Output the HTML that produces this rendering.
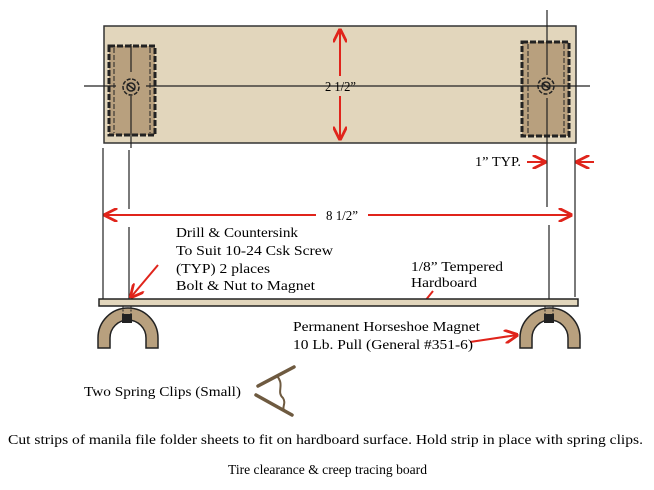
<!DOCTYPE html>
<html><head><meta charset="utf-8"><style>
html,body{margin:0;padding:0;background:#fff}
svg{display:block}
text{font-family:"Liberation Serif",serif;font-size:14px;fill:#000}
</style></head><body>
<svg width="654" height="490" viewBox="0 0 654 490">
<defs>
<marker id="a" viewBox="0 0 10 10" refX="9" refY="5" markerWidth="7" markerHeight="7" orient="auto-start-reverse"><path d="M0,0 L10,5 L0,10" fill="none" stroke="#e0241b" stroke-width="2"/></marker>
</defs>
<rect x="104" y="26" width="472" height="117" fill="#e2d6bc" stroke="#333" stroke-width="1.5"/>
<g stroke="#222" stroke-width="3" stroke-dasharray="6,2" fill="#b8a07e">
<rect x="109" y="46" width="46" height="89"/>
<rect x="522" y="42" width="47" height="94"/>
</g>
<g stroke="#222" stroke-width="1" stroke-dasharray="5,2" fill="none">
<line x1="114" y1="48" x2="114" y2="133"/><line x1="150" y1="48" x2="150" y2="133"/>
<line x1="528" y1="44" x2="528" y2="134"/><line x1="564" y1="44" x2="564" y2="134"/>
</g>
<g stroke="#222" stroke-width="1.2">
<line x1="84" y1="86" x2="116" y2="86"/><line x1="146" y1="86" x2="590" y2="86"/>
<line x1="131" y1="44" x2="131" y2="72"/><line x1="131" y1="96" x2="131" y2="148"/>
<line x1="547" y1="10" x2="547" y2="75"/><line x1="547" y1="98" x2="547" y2="207"/>
<line x1="103" y1="148" x2="103" y2="300"/>
<line x1="129" y1="150" x2="129" y2="209"/><line x1="129" y1="227" x2="129" y2="300"/>
<line x1="549" y1="225" x2="549" y2="300"/>
<line x1="575" y1="148" x2="575" y2="297"/>
</g>
<g fill="none" stroke="#222" stroke-width="1.5">
<circle cx="131" cy="87" r="8" stroke-dasharray="4,1.5"/><circle cx="131" cy="87" r="4"/><line x1="127" y1="84" x2="135" y2="90"/>
<circle cx="546" cy="86" r="8" stroke-dasharray="4,1.5"/><circle cx="546" cy="86" r="4"/><line x1="542" y1="83" x2="550" y2="89"/>
</g>
<g stroke="#e0241b" stroke-width="2" fill="none">
<line x1="340" y1="30" x2="340" y2="76" marker-start="url(#a)"/>
<line x1="340" y1="96" x2="340" y2="139" marker-end="url(#a)"/>
<line x1="105" y1="215" x2="316" y2="215" marker-start="url(#a)"/>
<line x1="368" y1="215" x2="571" y2="215" marker-end="url(#a)"/>
<line x1="527" y1="162" x2="545" y2="162" marker-end="url(#a)"/>
<line x1="594" y1="162" x2="577" y2="162" marker-end="url(#a)"/>
<line x1="158" y1="265" x2="131" y2="297" marker-end="url(#a)"/>
<line x1="470" y1="342" x2="517" y2="335" marker-end="url(#a)"/>
<line x1="433" y1="291" x2="425" y2="301"/>
</g>
<text x="325" y="91" textLength="31" lengthAdjust="spacingAndGlyphs">2 1/2”</text>
<text x="326" y="220" textLength="32" lengthAdjust="spacingAndGlyphs">8 1/2”</text>
<text x="475" y="166" textLength="46" lengthAdjust="spacingAndGlyphs">1” TYP.</text>
<rect x="99" y="299" width="479" height="7" fill="#e2d6bc" stroke="#222" stroke-width="1.5"/>
<g fill="#b8a07e" stroke="#222" stroke-width="1.5">
<path d="M98,348 L98,338 A30,30 0 0 1 158,338 L158,348 L146,348 L146,338 A18,18 0 0 0 110,338 L110,348 Z"/>
<path d="M520,348 L520,338 A30,30 0 0 1 580,338 L580,348 L568,348 L568,338 A18,18 0 0 0 532,338 L532,348 Z"/>
</g>
<g fill="#222"><rect x="122" y="314" width="10" height="9"/><rect x="544" y="314" width="10" height="9"/></g>
<g stroke="#222" stroke-width="1" stroke-dasharray="2,1.5">
<line x1="123" y1="306" x2="123" y2="320"/><line x1="131" y1="306" x2="131" y2="320"/>
<line x1="545" y1="306" x2="545" y2="320"/><line x1="553" y1="306" x2="553" y2="320"/>
</g>
<text x="176" y="237" textLength="122" lengthAdjust="spacingAndGlyphs">Drill &amp; Countersink</text>
<text x="176" y="255" textLength="157" lengthAdjust="spacingAndGlyphs">To Suit 10-24 Csk Screw</text>
<text x="176" y="273" textLength="94" lengthAdjust="spacingAndGlyphs">(TYP) 2 places</text>
<text x="176" y="290" textLength="139" lengthAdjust="spacingAndGlyphs">Bolt &amp; Nut to Magnet</text>
<text x="411" y="271" textLength="92" lengthAdjust="spacingAndGlyphs">1/8” Tempered</text>
<text x="411" y="287" textLength="66" lengthAdjust="spacingAndGlyphs">Hardboard</text>
<text x="293" y="331" textLength="187" lengthAdjust="spacingAndGlyphs">Permanent Horseshoe Magnet</text>
<text x="293" y="349" textLength="180" lengthAdjust="spacingAndGlyphs">10 Lb. Pull (General #351-6)</text>
<text x="84" y="396" textLength="157" lengthAdjust="spacingAndGlyphs">Two Spring Clips (Small)</text>
<g stroke="#6e5a40" stroke-width="3.5" fill="none" stroke-linecap="round">
<line x1="258" y1="386" x2="294" y2="367"/>
<line x1="256" y1="395" x2="292" y2="415"/>
<path d="M277,376 C285,385 276,392 283,398 C287,404 280,408 286,412" stroke-width="2"/>
</g>
<text x="8" y="444" textLength="635" lengthAdjust="spacingAndGlyphs">Cut strips of manila file folder sheets to fit on hardboard surface.  Hold strip in place with spring clips.</text>
<text x="228" y="474" textLength="199" lengthAdjust="spacingAndGlyphs">Tire clearance &amp; creep tracing board</text>
</svg>
</body></html>
